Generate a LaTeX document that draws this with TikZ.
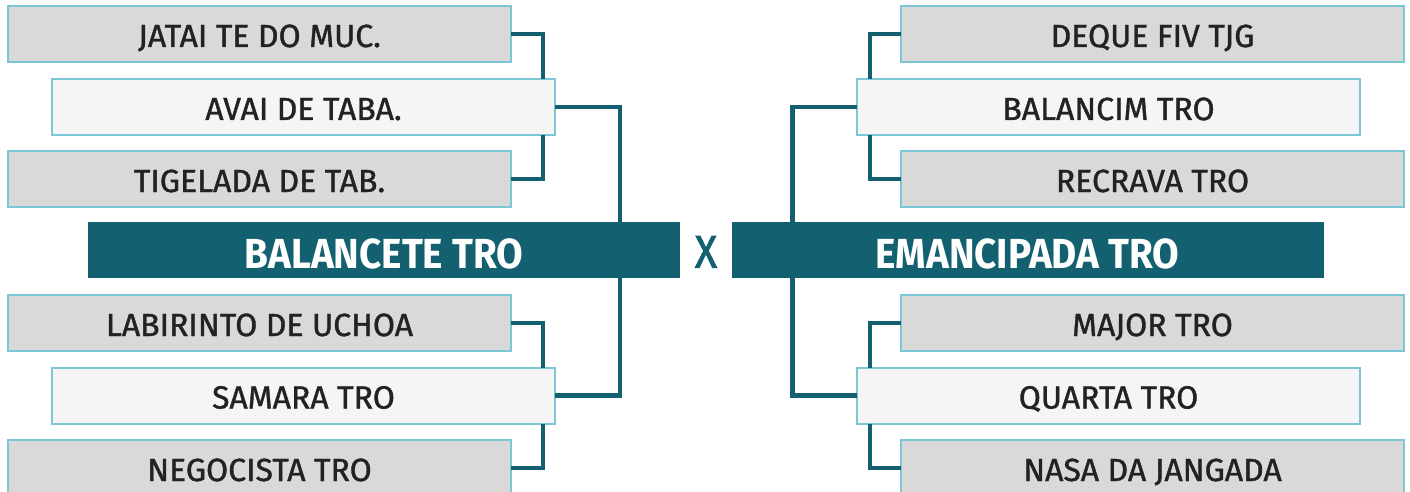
\documentclass[tikz,border=0pt]{standalone}
\usepackage{fontspec}
\setmainfont{Fira Sans}[FakeBold=1.2]
\newfontfamily\finalfont{Fira Sans}[FakeStretch=0.92]
\newfontfamily\xfont{Fira Sans}[FakeStretch=0.9,FakeBold=1.6]
\usetikzlibrary{calc}
\definecolor{teal}{HTML}{136170}
\definecolor{bord}{HTML}{7CC6D6}
\definecolor{grayfill}{HTML}{D9D9D9}
\definecolor{lightfill}{HTML}{F5F5F5}
\definecolor{txt}{HTML}{222222}
\begin{document}
\begin{tikzpicture}[x=1pt,y=-1pt,
  team/.style={draw=bord, line width=2pt, minimum width=503pt, minimum height=56pt,
    inner sep=0pt, outer sep=0pt, text=txt, text height=26pt, text depth=0pt,
    font=\fontsize{32}{34}\selectfont},
  outer/.style={team, fill=grayfill},
  inner/.style={team, fill=lightfill},
  finalbox/.style={fill=teal, minimum width=592pt, minimum height=56pt, inner sep=0pt,
    outer sep=0pt, text=white, text height=36pt, text depth=0pt,
    font=\finalfont\bfseries\fontsize{42}{44}\selectfont},
  conn/.style={draw=teal, line width=4.5pt}]
\useasboundingbox (0,0) rectangle (1410,492);
\clip (0,0) rectangle (1410,492);
\fill[white] (0,0) rectangle (1410,492);
% left
\node[outer] (jatai) at (259.5,34) {JATAI TE DO MUC.};
\node[inner] (avai) at (303.5,107) {AVAI DE TABA.};
\node[outer] (tigel) at (259.5,179) {TIGELADA DE TAB.};
\node[outer] (labir) at (259.5,323) {LABIRINTO DE UCHOA};
\node[inner] (samara) at (303.5,395.5) {SAMARA TRO};
\node[outer] (nego) at (259.5,468) {NEGOCISTA TRO};
% right
\node[outer] (deque) at (1152.5,34) {DEQUE FIV TJG};
\node[inner] (balcim) at (1108.5,107) {BALANCIM TRO};
\node[outer] (recr) at (1152.5,179) {RECRAVA TRO};
\node[outer] (major) at (1152.5,323) {MAJOR TRO};
\node[inner] (quarta) at (1108.5,395.5) {QUARTA TRO};
\node[outer] (nasa) at (1152.5,468) {NASA DA JANGADA};
% finals
\node[finalbox] (balcet) at (384,250) {BALANCETE TRO};
\node[finalbox] (emanc) at (1027.5,250) {EMANCIPADA TRO};
\node[text=teal, font=\xfont\fontsize{46}{48}\selectfont, inner sep=0pt,
  text height=35.5pt, text depth=0pt] (vs) at (706,250) {X};
% connectors left
\draw[conn] (jatai.east) -| ([xshift=-12pt]avai.north east);
\draw[conn] ([xshift=-12pt]avai.south east) |- (tigel.east);
\draw[conn] (avai.east) -| ([xshift=-60pt]balcet.north east);
\draw[conn] (labir.east) -| ([xshift=-12pt]samara.north east);
\draw[conn] ([xshift=-12pt]samara.south east) |- (nego.east);
\draw[conn] (samara.east) -| ([xshift=-60pt]balcet.south east);
% connectors right
\draw[conn] (deque.west) -| ([xshift=13pt]balcim.north west);
\draw[conn] ([xshift=13pt]balcim.south west) |- (recr.west);
\draw[conn] (balcim.west) -| ([xshift=61pt]emanc.north west);
\draw[conn] (major.west) -| ([xshift=13pt]quarta.north west);
\draw[conn] ([xshift=13pt]quarta.south west) |- (nasa.west);
\draw[conn] (quarta.west) -| ([xshift=61pt]emanc.south west);
\end{tikzpicture}
\end{document}
